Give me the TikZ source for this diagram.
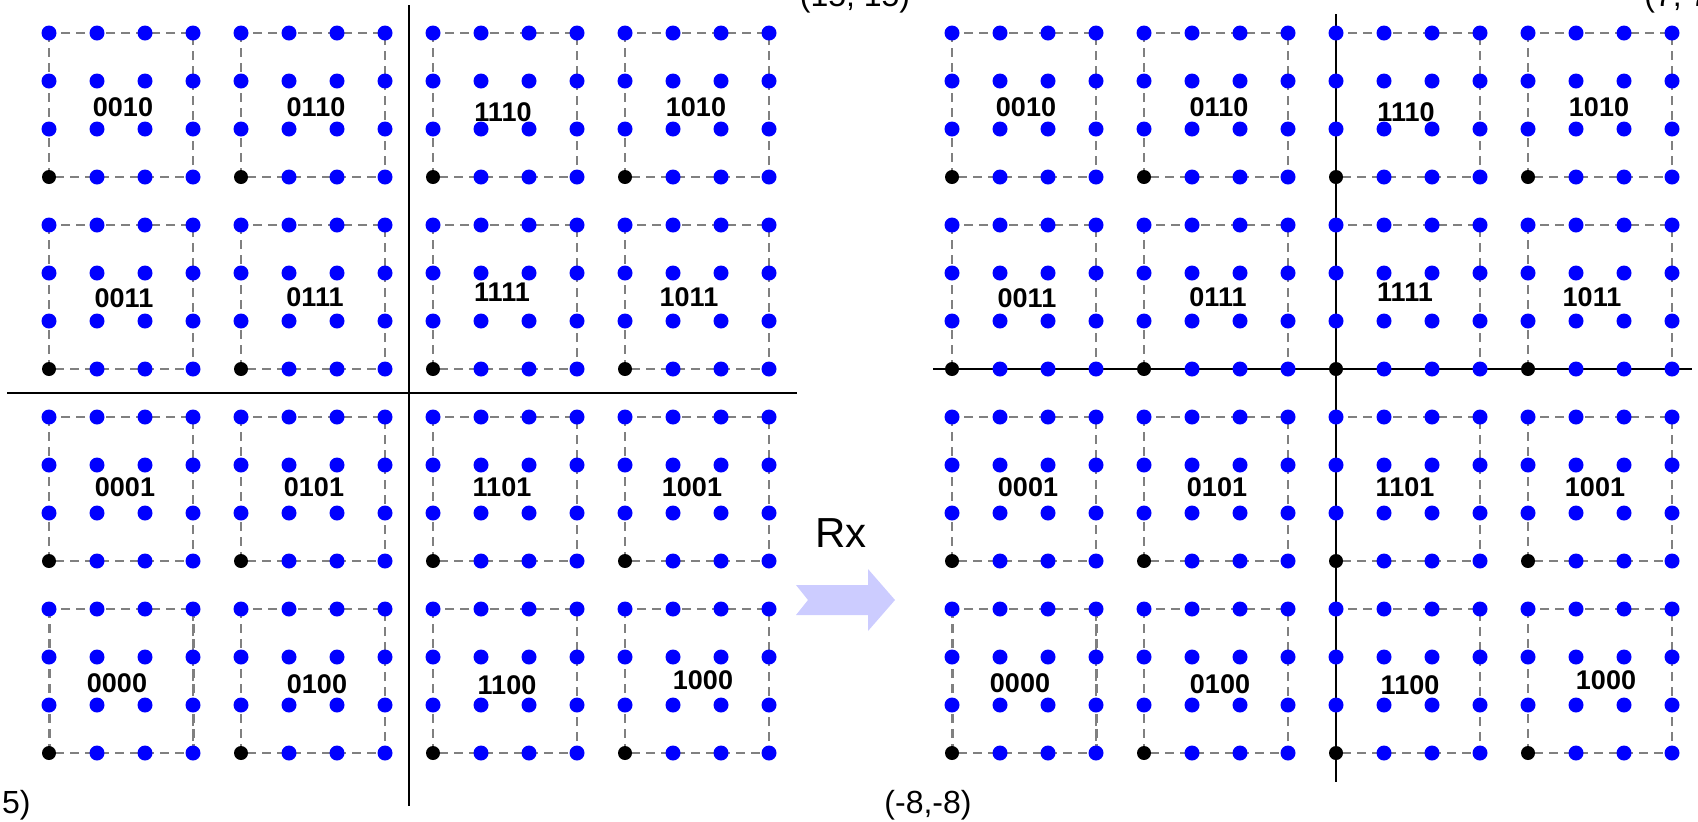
\documentclass[tikz,border=0pt]{standalone}
\usepackage{fontspec}
\setmainfont{Liberation Sans}
\usetikzlibrary{arrows.meta, positioning}
\usepackage{xcolor}
\definecolor{dotblue}{RGB}{0, 0, 255}
\definecolor{gridgray}{RGB}{128, 128, 128}
\definecolor{arrowlilac}{RGB}{204, 204, 255}

\begin{document}
\begin{tikzpicture}[
            x=0.5pt, y=-0.5pt,
            gridline/.style={draw=gridgray, line width=1pt, dash pattern=on 4.5pt off 3pt},
            axisline/.style={draw=black, line width=1.1pt},
            bluedot/.style={fill=dotblue},
            blackdot/.style={fill=black},
            codelabel/.style={font=\bfseries\fontsize{13.5}{15}\selectfont, inner sep=0pt},
            cornertext/.style={font=\fontsize{16}{18}\selectfont, inner sep=0pt}
        ]
            \useasboundingbox (0,0) rectangle (1698,821);

            % Dashed blocks
            \foreach \dx in {0,903} {
                \foreach \bx in {0,...,3}
                    \foreach \by in {0,...,3}
                        \draw[gridline] (49+\dx+192*\bx,33+192*\by) rectangle ++(144,144);
                \draw[gridline, line width=1.5pt] (49+\dx,609) -- (49+\dx,753);
                \draw[gridline, line width=1.5pt] (193+\dx,609) -- (193+\dx,753);
            }

            % Axes
            \draw[axisline] (409,5) -- (409,806);
            \draw[axisline] (7,393) -- (797,393);
            \draw[axisline] (1336,14) -- (1336,782);
            \draw[axisline] (933,369) -- (1692,369);

            % Points
            \foreach \dx in {0,903}
                \foreach \i in {0,...,15}
                    \foreach \j in {0,...,15} {
                        \pgfmathtruncatemacro{\corner}{and(mod(\i,4)==0, mod(\j,4)==3)}
                        \ifnum\corner=1
                            \fill[blackdot] (49+\dx+48*\i,33+48*\j) circle (3.5pt);
                        \else
                            \fill[bluedot] (49+\dx+48*\i,33+48*\j) circle (3.75pt);
                        \fi
                    }

            % Labels
            \foreach \side/\dx in {l/0, r/903}
                \foreach \code/\x/\y in {0010/123/107, 0110/316/107, 1110/503/112, 1010/696/107,
                                         0011/124/298, 0111/315/297, 1111/502/292, 1011/689/297,
                                         0001/125/487, 0101/314/487, 1101/502/487, 1001/692/487,
                                         0000/117/683, 0100/317/684, 1100/507/685, 1000/703/680}
                    \node[codelabel] (\side\code) at (\x+\dx,\y) {\code};

            % Corners
            \node[cornertext, anchor=base] (maxl) at (855,6) {(15, 15)};
            \node[cornertext, anchor=base west] (maxr) at (1644,6) {(7, 7)};
            \node[cornertext, anchor=base east] (minl) at (31,813) {5)};
            \node[cornertext, anchor=base] (minr) at (928,813) {(-8,-8)};

            % Arrow
            \fill[arrowlilac] (796,585) -- (868,585) -- (868,569) -- (895,600) -- (868,631)
                -- (868,615) -- (796,615) -- (808,600) -- cycle;
            \node[font=\fontsize{21}{24}\selectfont, inner sep=0pt, anchor=base] (rx) at (841,547) {Rx};
        \end{tikzpicture}
\end{document}
